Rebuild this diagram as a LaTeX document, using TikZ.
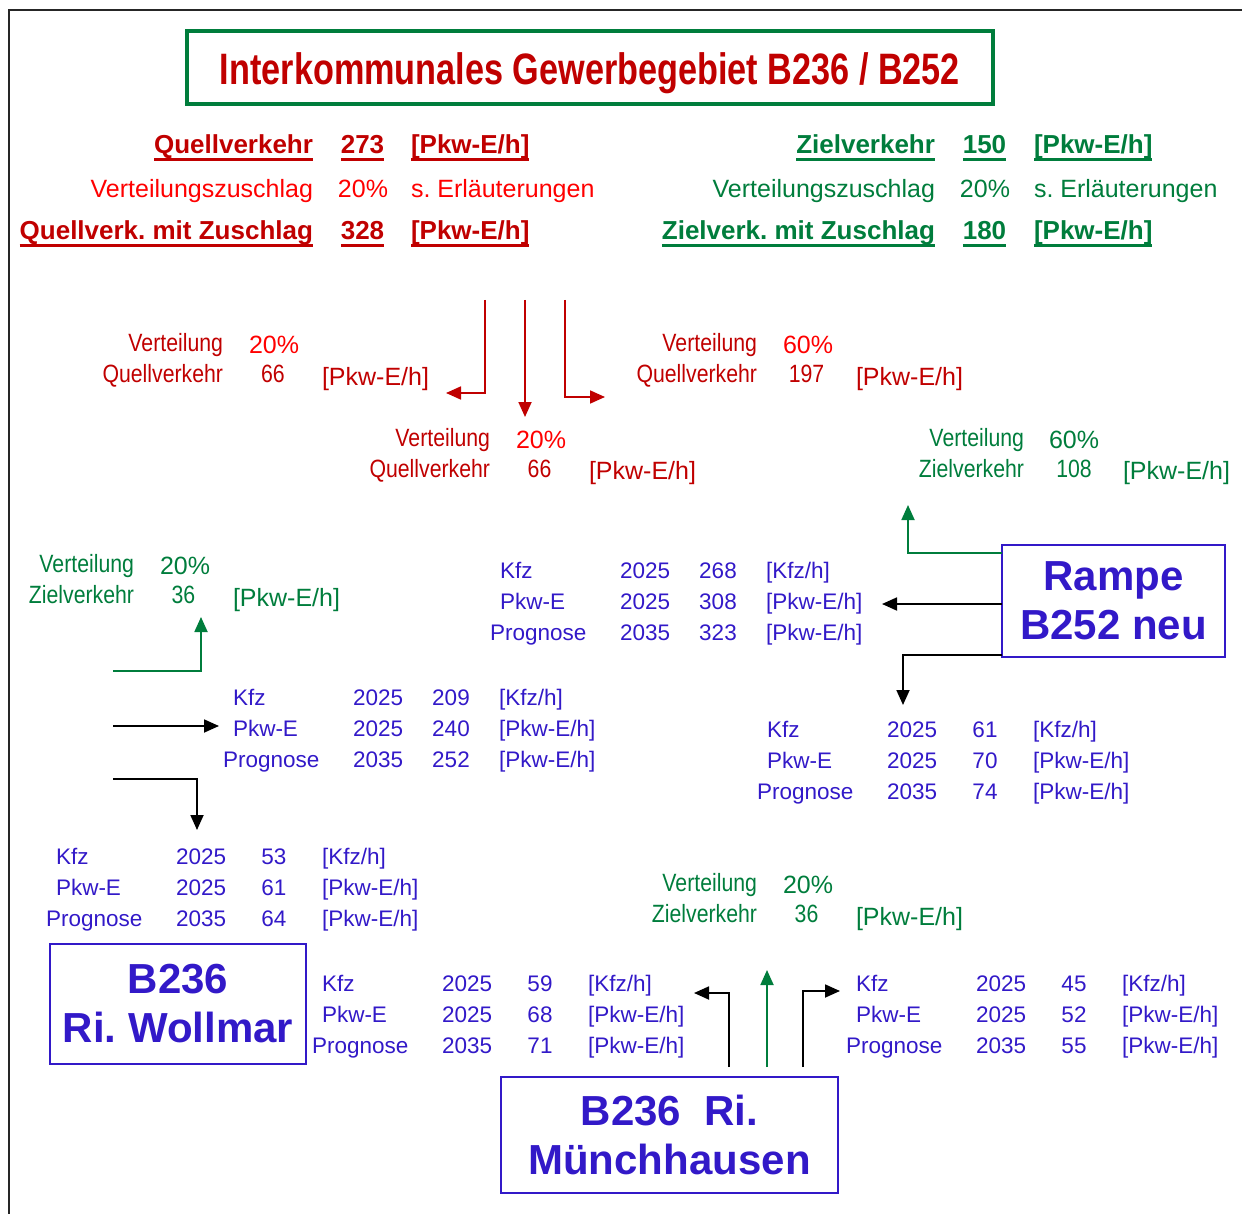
\documentclass[tikz,border=0pt]{standalone}
\usepackage{fontspec}
\setmainfont{Liberation Sans}
\usetikzlibrary{arrows.meta}
\definecolor{dred}{RGB}{192,0,0}
\definecolor{bred}{RGB}{255,0,0}
\definecolor{dgreen}{RGB}{0,125,60}
\definecolor{dblue}{RGB}{50,25,200}
\newcommand\fs[1]{\fontsize{#1}{#1}\selectfont}
\newcommand\nrw[1]{\scalebox{0.85}[1]{#1}}
\newcommand\myul[1]{\setbox0\hbox{#1}\rlap{\rule[-7pt]{\wd0}{3pt}}\box0}
\newcommand\btab[6]{%
 \node[bt] (#1-l1) at (#2,#3) {Kfz};
 \node[bt] (#1-y1) at (#2+120,#3) {2025};
 \node[bt,anchor=base] (#1-v1) at (#2+218,#3) {#4};
 \node[bt] (#1-u1) at (#2+266,#3) {[Kfz/h]};
 \node[bt] (#1-l2) at (#2,#3+31) {Pkw-E};
 \node[bt] (#1-y2) at (#2+120,#3+31) {2025};
 \node[bt,anchor=base] (#1-v2) at (#2+218,#3+31) {#5};
 \node[bt] (#1-u2) at (#2+266,#3+31) {[Pkw-E/h]};
 \node[bt] (#1-l3) at (#2-10,#3+62) {Prognose};
 \node[bt] (#1-y3) at (#2+120,#3+62) {2035};
 \node[bt,anchor=base] (#1-v3) at (#2+218,#3+62) {#6};
 \node[bt] (#1-u3) at (#2+266,#3+62) {[Pkw-E/h]};
}
\tikzset{
 every node/.style={inner sep=0pt, outer sep=0pt},
 hd/.style={font=\fs{26}\bfseries},
 rg/.style={font=\fs{25}},
 bt/.style={font=\fs{22.5}, text=dblue, anchor=base west},
 bbox/.style={draw=dblue, line width=2pt, text=dblue, align=center, font=\fontsize{42}{49}\selectfont\bfseries},
 arr/.style={line width=1.8pt, -{Triangle[length=15pt,width=13pt]}},
}
\begin{document}
\frenchspacing
\begin{tikzpicture}[x=1pt,y=-1pt]
\useasboundingbox (0,0) rectangle (1242,1214);
% frame
\draw[line width=2pt, black!85] (9,1214) -- (9,10) -- (1242,10);
% title
\node[draw=dgreen, line width=4pt, minimum width=806pt, minimum height=73pt] (tbox) at (590,67.5) {};
\node[anchor=base, text=dred, font=\fs{44}\bfseries] (title) at (590,85) {\scalebox{0.778}[1]{Interkommunales Gewerbegebiet B236 / B252}};
% header left
\node[hd, text=dred, anchor=base east] (qv) at (313,154) {\myul{Quellverkehr}};
\node[hd, text=dred, anchor=base] (qvn) at (362.5,154) {\myul{273}};
\node[hd, text=dred, anchor=base west] (qvu) at (411,154) {\myul{[Pkw-E/h]}};
\node[rg, text=bred, anchor=base east] (qz) at (313,198) {Verteilungszuschlag};
\node[rg, text=bred, anchor=base] (qzn) at (363,198) {20\%};
\node[rg, text=bred, anchor=base west] (qzu) at (411,198) {s. Erläuterungen};
\node[hd, text=dred, anchor=base east] (qm) at (313,240) {\myul{Quellverk. mit Zuschlag}};
\node[hd, text=dred, anchor=base] (qmn) at (362.5,240) {\myul{328}};
\node[hd, text=dred, anchor=base west] (qmu) at (411,240) {\myul{[Pkw-E/h]}};
% header right
\node[hd, text=dgreen, anchor=base east] (zv) at (935,154) {\myul{Zielverkehr}};
\node[hd, text=dgreen, anchor=base] (zvn) at (984.5,154) {\myul{150}};
\node[hd, text=dgreen, anchor=base west] (zvu) at (1034,154) {\myul{[Pkw-E/h]}};
\node[rg, text=dgreen, anchor=base east] (zz) at (935,198) {Verteilungszuschlag};
\node[rg, text=dgreen, anchor=base] (zzn) at (985,198) {20\%};
\node[rg, text=dgreen, anchor=base west] (zzu) at (1034,198) {s. Erläuterungen};
\node[hd, text=dgreen, anchor=base east] (zm) at (935,240) {\myul{Zielverk. mit Zuschlag}};
\node[hd, text=dgreen, anchor=base] (zmn) at (984.5,240) {\myul{180}};
\node[hd, text=dgreen, anchor=base west] (zmu) at (1034,240) {\myul{[Pkw-E/h]}};
% distribution A (red, left)
\node[rg, text=dred, anchor=base east] (aV) at (223,352) {\nrw{Verteilung}};
\node[rg, text=bred, anchor=base west] (aP) at (249,354) {20\%};
\node[rg, text=dred, anchor=base east] (aQ) at (223,383) {\nrw{Quellverkehr}};
\node[rg, text=dred, anchor=base] (aN) at (273,383) {\nrw{66}};
\node[rg, text=dred, anchor=base west] (aU) at (322,385) {[Pkw-E/h]};
% distribution B (red, middle)
\node[rg, text=dred, anchor=base east] (bV) at (490,446) {\nrw{Verteilung}};
\node[rg, text=bred, anchor=base west] (bP) at (516,448) {20\%};
\node[rg, text=dred, anchor=base east] (bQ) at (490,477) {\nrw{Quellverkehr}};
\node[rg, text=dred, anchor=base] (bN) at (539.5,477) {\nrw{66}};
\node[rg, text=dred, anchor=base west] (bU) at (589,479) {[Pkw-E/h]};
% distribution C (red, right)
\node[rg, text=dred, anchor=base east] (cV) at (757,352) {\nrw{Verteilung}};
\node[rg, text=bred, anchor=base west] (cP) at (783,354) {60\%};
\node[rg, text=dred, anchor=base east] (cQ) at (757,383) {\nrw{Quellverkehr}};
\node[rg, text=dred, anchor=base] (cN) at (806.5,383) {\nrw{197}};
\node[rg, text=dred, anchor=base west] (cU) at (856,385) {[Pkw-E/h]};
% distribution D (green, right)
\node[rg, text=dgreen, anchor=base east] (dV) at (1024,446) {\nrw{Verteilung}};
\node[rg, text=dgreen, anchor=base west] (dP) at (1049,448) {60\%};
\node[rg, text=dgreen, anchor=base east] (dQ) at (1024,477) {\nrw{Zielverkehr}};
\node[rg, text=dgreen, anchor=base] (dN) at (1074,477) {\nrw{108}};
\node[rg, text=dgreen, anchor=base west] (dU) at (1123,479) {[Pkw-E/h]};
% distribution E (green, left)
\node[rg, text=dgreen, anchor=base east] (eV) at (134,572) {\nrw{Verteilung}};
\node[rg, text=dgreen, anchor=base west] (eP) at (160,574) {20\%};
\node[rg, text=dgreen, anchor=base east] (eQ) at (134,603) {\nrw{Zielverkehr}};
\node[rg, text=dgreen, anchor=base] (eN) at (183.5,603) {\nrw{36}};
\node[rg, text=dgreen, anchor=base west] (eU) at (233,606) {[Pkw-E/h]};
% distribution F (green, bottom)
\node[rg, text=dgreen, anchor=base east] (fV) at (757,891) {\nrw{Verteilung}};
\node[rg, text=dgreen, anchor=base west] (fP) at (783,893) {20\%};
\node[rg, text=dgreen, anchor=base east] (fQ) at (757,922) {\nrw{Zielverkehr}};
\node[rg, text=dgreen, anchor=base] (fN) at (806.5,922) {\nrw{36}};
\node[rg, text=dgreen, anchor=base west] (fU) at (856,925) {[Pkw-E/h]};
% blue tables
\btab{t1}{500}{578}{268}{308}{323}
\btab{t2}{233}{705}{209}{240}{252}
\btab{t3}{767}{737}{61}{70}{74}
\btab{t4}{56}{864}{53}{61}{64}
\btab{t5}{322}{991}{59}{68}{71}
\btab{t6}{856}{991}{45}{52}{55}
% boxes
\node[bbox, minimum width=223pt, minimum height=112pt] (rampe) at (1113.5,601) {Rampe\\B252 neu};
\node[bbox, minimum width=256pt, minimum height=120pt] (woll) at (178,1004) {B236\\Ri. Wollmar};
\node[bbox, minimum width=337pt, minimum height=116pt] (muen) at (669.5,1135) {B236~~Ri.\\Münchhausen};
% red arrows
\coordinate (r1s) at (485,300); \coordinate (r1e) at (446,393);
\coordinate (r2s) at (525,300); \coordinate (r2e) at (525,417);
\coordinate (r3s) at (565,300); \coordinate (r3e) at (605,397);
\draw[arr, dred] (r1s) |- (r1e);
\draw[arr, dred] (r2s) -- (r2e);
\draw[arr, dred] (r3s) |- (r3e);
% rampe arrows
\coordinate (g1e) at (908,505);
\draw[arr, dgreen] ([yshift=-8pt]rampe.north west) -| (g1e);
\coordinate (k1e) at (882,604);
\draw[arr, black] (rampe.west |- k1e) -- (k1e);
\coordinate (k2e) at (903,705);
\draw[arr, black] ([yshift=2pt]rampe.south west) -| (k2e);
% left arrows
\coordinate (g2s) at (113,671); \coordinate (g2e) at (201,617);
\draw[arr, dgreen] (g2s) -| (g2e);
\coordinate (k3s) at (113,726); \coordinate (k3e) at (219,726);
\draw[arr, black] (k3s) -- (k3e);
\coordinate (k4s) at (113,779); \coordinate (k4e) at (197,830);
\draw[arr, black] (k4s) -| (k4e);
% bottom arrows
\coordinate (k5s) at (729,1067); \coordinate (k5e) at (694,993);
\draw[arr, black] (k5s) |- (k5e);
\coordinate (g3s) at (767,1067); \coordinate (g3e) at (767,970);
\draw[arr, dgreen] (g3s) -- (g3e);
\coordinate (k6s) at (803,1067); \coordinate (k6e) at (840,991);
\draw[arr, black] (k6s) |- (k6e);
\end{tikzpicture}
\end{document}
